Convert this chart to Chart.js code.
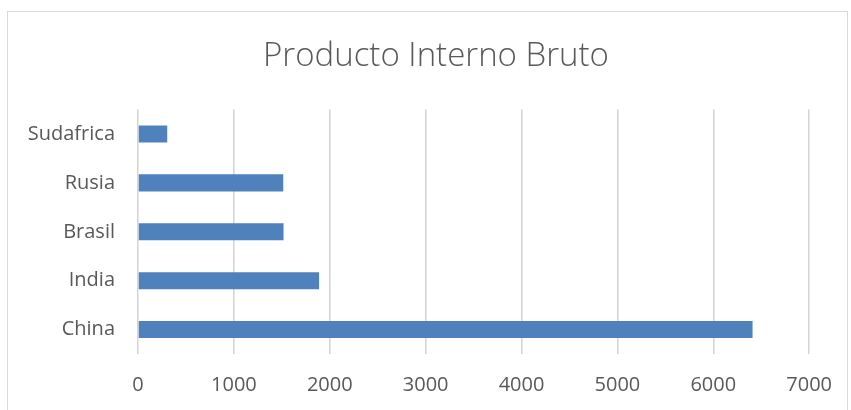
<!DOCTYPE html>
<html>
<head>
<meta charset="utf-8">
<script src="https://cdn.jsdelivr.net/npm/chart.js@4"></script>
<style>
  html, body { margin: 0; padding: 0; background: #fff; }
  #wrap { position: relative; width: 851px; height: 410px; overflow: hidden; }
  #frame {
    position: absolute; left: 7px; top: 11px; width: 841px; height: 420px;
    border: 1px solid #d9d9d9; box-sizing: border-box; pointer-events: none;
  }
</style>
</head>
<body>
<div id="wrap">
  <canvas id="chart" width="851" height="410"></canvas>
  <div id="frame"></div>
</div>
<script>
// datos (de arriba hacia abajo)
const paises = ['Sudafrica', 'Rusia', 'Brasil', 'India', 'China'];
const pib = [305, 1515, 1518, 1889, 6410];
const xTicks = [0, 1000, 2000, 3000, 4000, 5000, 6000, 7000];

const gris = '#595959';
const font = 'Open Sans';

// el titulo va centrado en el marco, no en todo el canvas
const tituloCentrado = {
  id: 'tituloCentrado',
  afterLayout(chart) {
    if (chart.titleBlock) {
      chart.titleBlock.left = 61;
    }
  },
};

const ctx = document.getElementById('chart').getContext('2d');

new Chart(ctx, {
  type: 'bar',
  data: {
    labels: paises,
    datasets: [
      {
        label: 'PIB',
        data: pib,
        backgroundColor: '#4f81bd',
        borderWidth: 0,
        barPercentage: 0.35,
        categoryPercentage: 1,
      },
    ],
  },
  options: {
    indexAxis: 'y',
    responsive: false,
    animation: false,
    layout: {
      padding: { left: 0, right: 40, top: 0, bottom: 0 },
    },
    plugins: {
      legend: { display: false },
      tooltip: { enabled: false },
      title: {
        display: true,
        text: 'Producto Interno Bruto',
        color: gris,
        font: { family: font, size: 33, weight: 300 },
        padding: { top: 37, bottom: 33 },
      },
    },
    scales: {
      x: {
        min: xTicks[0],
        max: xTicks[xTicks.length - 1],
        afterBuildTicks: (scale) => {
          scale.ticks = xTicks.map((v) => ({ value: v }));
        },
        afterFit: (scale) => {
          scale.height = 56;
        },
        ticks: {
          color: gris,
          font: { family: font, size: 20 },
          padding: 19,
          maxRotation: 0,
          callback: (v) => String(v),
        },
        grid: { color: '#d4d4d4', lineWidth: 1.5, drawTicks: false },
        border: { display: false },
      },
      y: {
        afterFit: (scale) => {
          scale.width = 138;
        },
        ticks: {
          color: gris,
          font: { family: font, size: 20 },
          padding: 23,
        },
        grid: { display: false, drawTicks: false },
        border: { display: false },
      },
    },
  },
  plugins: [tituloCentrado],
});
</script>
</body>
</html>
